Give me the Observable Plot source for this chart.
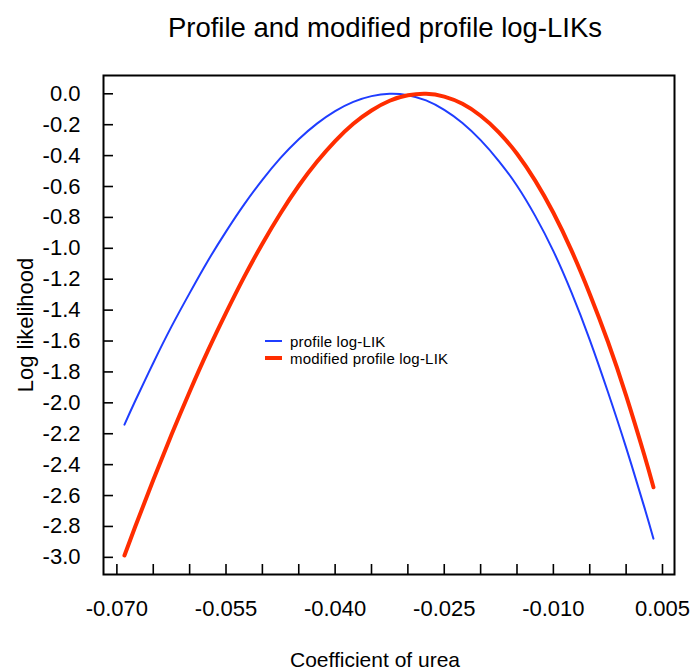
<!DOCTYPE html>
<html><head><meta charset="utf-8">
<script src="https://cdn.jsdelivr.net/npm/d3@7"></script>
<script src="https://cdn.jsdelivr.net/npm/@observablehq/plot@0.6"></script>
<style>
body{margin:0;background:#fff;}
#wrap{position:relative;width:692px;height:671px;}
#wrap svg{position:absolute;left:0;top:0;}
</style></head><body>
<div id="wrap"></div>
<script>
// coefficient values where the curves were read
const coefX = [-0.06896, -0.0675, -0.065, -0.0625, -0.060, -0.0575, -0.055, -0.0525, -0.050, -0.0475, -0.045, -0.0425, -0.040, -0.0375, -0.035, -0.0325, -0.030, -0.0275, -0.025, -0.0225, -0.020, -0.0175, -0.015, -0.0125, -0.010, -0.0075, -0.005, -0.0025, 0.000, 0.0025, 0.00376];
// profile log-likelihood (blue)
const profileY = [-2.141, -1.990, -1.742, -1.507, -1.290, -1.082, -0.892, -0.716, -0.557, -0.415, -0.294, -0.193, -0.112, -0.052, -0.015, 0.000, -0.009, -0.043, -0.104, -0.189, -0.300, -0.435, -0.595, -0.790, -1.018, -1.287, -1.592, -1.930, -2.290, -2.675, -2.879];
// modified profile log-likelihood (red)
const modY = [-2.988, -2.804, -2.500, -2.207, -1.928, -1.664, -1.418, -1.185, -0.970, -0.773, -0.595, -0.440, -0.306, -0.194, -0.108, -0.045, -0.010, 0.000, -0.018, -0.065, -0.142, -0.249, -0.388, -0.562, -0.770, -1.015, -1.295, -1.605, -1.953, -2.338, -2.546];

const seriesNames = ["profile log-LIK", "modified profile log-LIK"];
const seriesColors = ["#1f3dff", "#ff2d00"];
const seriesWidths = [2, 4];

const xTicks = [-0.070, -0.065, -0.060, -0.055, -0.050, -0.045, -0.040, -0.035, -0.030, -0.025, -0.020, -0.015, -0.010, -0.005, 0.000, 0.005];
const xTickLabels = [-0.070, -0.055, -0.040, -0.025, -0.010, 0.005];
const yTicks = [0.0, -0.2, -0.4, -0.6, -0.8, -1.0, -1.2, -1.4, -1.6, -1.8, -2.0, -2.2, -2.4, -2.6, -2.8, -3.0];

const titleText = "Profile and modified profile log-LIKs";
const xTitle = "Coefficient of urea";
const yTitle = "Log likelihood";

const profile = coefX.map((x, i) => ({x, y: profileY[i]}));
const modified = coefX.map((x, i) => ({x, y: modY[i]}));

const W = 692, H = 671, mL = 103, mR = 18, mT = 75, mB = 97;
const frameW = W - mL - mR, frameH = H - mT - mB;
const font = "'Liberation Sans', Arial, Helvetica, sans-serif";

const chart = Plot.plot({
  width: W, height: H,
  marginLeft: mL, marginRight: mR, marginTop: mT, marginBottom: mB,
  style: {fontFamily: font, fontSize: "22px", background: "white", color: "black"},
  x: {domain: [-0.07184, 0.00665]},
  y: {domain: [-3.111, 0.1184]},
  marks: [
    Plot.line(profile, {x: "x", y: "y", stroke: seriesColors[0], strokeWidth: seriesWidths[0], curve: "natural"}),
    Plot.line(modified, {x: "x", y: "y", stroke: seriesColors[1], strokeWidth: seriesWidths[1], curve: "natural"}),
    Plot.tickY(yTicks, {y: d => d, insetRight: frameW - 10, stroke: "black", strokeWidth: 1.6}),
    Plot.tickX(xTicks, {x: d => d, insetTop: frameH - 10, stroke: "black", strokeWidth: 1.6}),
    Plot.axisY({ticks: yTicks, tickSize: 0, tickPadding: 23, tickFormat: d => d.toFixed(1), fontSize: 22, label: null}),
    Plot.axisX({ticks: xTickLabels, tickSize: 0, tickPadding: 26, tickFormat: d => d.toFixed(3), fontSize: 22, label: null}),
    Plot.frame({stroke: "black", strokeWidth: 2})
  ]
});
document.getElementById("wrap").appendChild(chart);

// overlay: title, axis titles, legend
const ov = d3.select("#wrap").append("svg").attr("width", W).attr("height", H)
  .style("font-family", font).style("pointer-events", "none");
ov.append("text").attr("x", 385).attr("y", 37).attr("text-anchor", "middle")
  .attr("font-size", 27.5).text(titleText);
ov.append("text").attr("x", 375).attr("y", 667).attr("text-anchor", "middle")
  .attr("font-size", 21).text(xTitle);
ov.append("text").attr("transform", "translate(33,325) rotate(-90)").attr("text-anchor", "middle")
  .attr("font-size", 22).text(yTitle);
const leg = ov.append("g");
const legY = [341, 358];
seriesNames.forEach((name, i) => {
  leg.append("line").attr("x1", 265).attr("x2", 282).attr("y1", legY[i]).attr("y2", legY[i])
    .attr("stroke", seriesColors[i]).attr("stroke-width", seriesWidths[i]);
  leg.append("text").attr("x", 290).attr("y", legY[i] + 5.5).attr("font-size", 15)
    .attr("letter-spacing", 0.2).text(name);
});
</script>
</body></html>
